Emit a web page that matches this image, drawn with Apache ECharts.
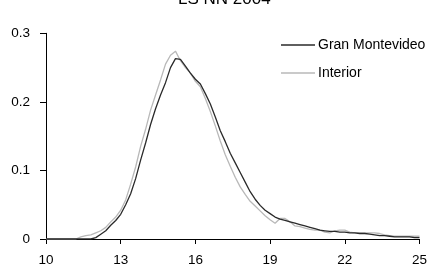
<!DOCTYPE html>
<html lang="en">
<head>
    <meta charset="UTF-8">
    <title>LS NN 2004</title>
    <script src="https://cdn.jsdelivr.net/npm/echarts@6/dist/echarts.min.js"></script>
    <style>
        *{ margin: 0; padding: 0; }
        body{ background-color: #fff; overflow: hidden; }
    </style>
</head>
<body>
<div id="main" style="width:430px;height:267px;"></div>
<script>
    // x grid of the curves (step 0.2)
    var xStart = 10, xStep = 0.2;
    var seriesNames = ['Gran Montevideo', 'Interior'];
    var xTicks = [10, 13, 16, 19, 22, 25];
    var yTicks = [0, 0.1, 0.2, 0.3];

    var granMontevideo = [
        0, 0, 0, 0, 0, 0, 0, 0, 0, 0,
        0.002, 0.007, 0.012, 0.02, 0.027, 0.036, 0.05, 0.066, 0.088, 0.115,
        0.14, 0.167, 0.19, 0.21, 0.228, 0.25, 0.263, 0.262, 0.252, 0.242,
        0.233, 0.226, 0.212, 0.197, 0.178, 0.158, 0.142, 0.125, 0.111, 0.097,
        0.083, 0.069, 0.058, 0.049, 0.042, 0.037, 0.032, 0.029, 0.027, 0.025,
        0.023, 0.021, 0.019, 0.017, 0.015, 0.013, 0.012, 0.011, 0.011, 0.010,
        0.010, 0.009, 0.009, 0.008, 0.008, 0.007, 0.006, 0.005, 0.005, 0.004,
        0.003, 0.003, 0.003, 0.003, 0.002, 0.002
    ];
    var interior = [
        0, 0, 0, 0, 0, 0, 0, 0.003, 0.005, 0.006,
        0.009, 0.012, 0.017, 0.025, 0.032, 0.042, 0.057, 0.08, 0.105, 0.135,
        0.16, 0.188, 0.21, 0.232, 0.255, 0.268, 0.274, 0.26, 0.25, 0.242,
        0.23, 0.222, 0.205, 0.186, 0.165, 0.143, 0.123, 0.106, 0.09, 0.076,
        0.065, 0.055, 0.048, 0.041, 0.034, 0.028, 0.023, 0.030, 0.030, 0.025,
        0.019, 0.018, 0.016, 0.014, 0.013, 0.013, 0.010, 0.009, 0.012, 0.013,
        0.013, 0.010, 0.009, 0.009, 0.009, 0.009, 0.009, 0.008, 0.006, 0.005,
        0.004, 0.004, 0.004, 0.004, 0.004, 0.004
    ];

    function toPairs(arr) {
        return arr.map(function (v, i) {
            return [+(xStart + i * xStep).toFixed(2), v];
        });
    }

    var font = 'Liberation Sans, Arial, sans-serif';
    var myChart = echarts.init(document.getElementById('main'));
    var option = {
        animation: false,
        title: {
            text: 'LS NN 2004',
            left: 173,
            top: -14,
            textStyle: { color: '#000', fontSize: 17, fontWeight: 'normal', fontFamily: font }
        },
        legend: {
            orient: 'vertical',
            left: 276,
            top: 33,
            icon: 'rect',
            itemWidth: 34,
            itemHeight: 1.5,
            itemGap: 14,
            textStyle: { color: '#000', fontSize: 14, fontFamily: font, padding: [0, 0, 0, -2] },
            data: seriesNames
        },
        grid: { left: 46, right: 9.3, top: 33.3, bottom: 26, containLabel: false },
        xAxis: {
            type: 'value',
            min: xTicks[0],
            max: xTicks[xTicks.length - 1],
            interval: 3,
            axisLine: { lineStyle: { color: '#000', width: 1 } },
            axisTick: { length: 5, lineStyle: { color: '#000' } },
            axisLabel: { color: '#000', fontSize: 13.5, fontFamily: font, margin: 14 },
            splitLine: { show: false }
        },
        yAxis: {
            type: 'value',
            min: yTicks[0],
            max: yTicks[yTicks.length - 1],
            interval: 0.1,
            axisLine: { show: true, lineStyle: { color: '#000', width: 1 } },
            axisTick: { show: true, length: 6, lineStyle: { color: '#000' } },
            axisLabel: { color: '#000', fontSize: 13.5, fontFamily: font, margin: 16 },
            splitLine: { show: false }
        },
        series: [
            {
                name: seriesNames[0],
                type: 'line',
                showSymbol: false,
                symbol: 'none',
                data: toPairs(granMontevideo),
                lineStyle: { color: '#2a2a2a', width: 1.3 },
                itemStyle: { color: '#2a2a2a' },
                z: 3
            },
            {
                name: seriesNames[1],
                type: 'line',
                showSymbol: false,
                symbol: 'none',
                data: toPairs(interior),
                lineStyle: { color: '#b8b8b8', width: 1.3 },
                itemStyle: { color: '#b8b8b8' },
                z: 2
            }
        ]
    };
    myChart.setOption(option);
</script>
</body>
</html>
